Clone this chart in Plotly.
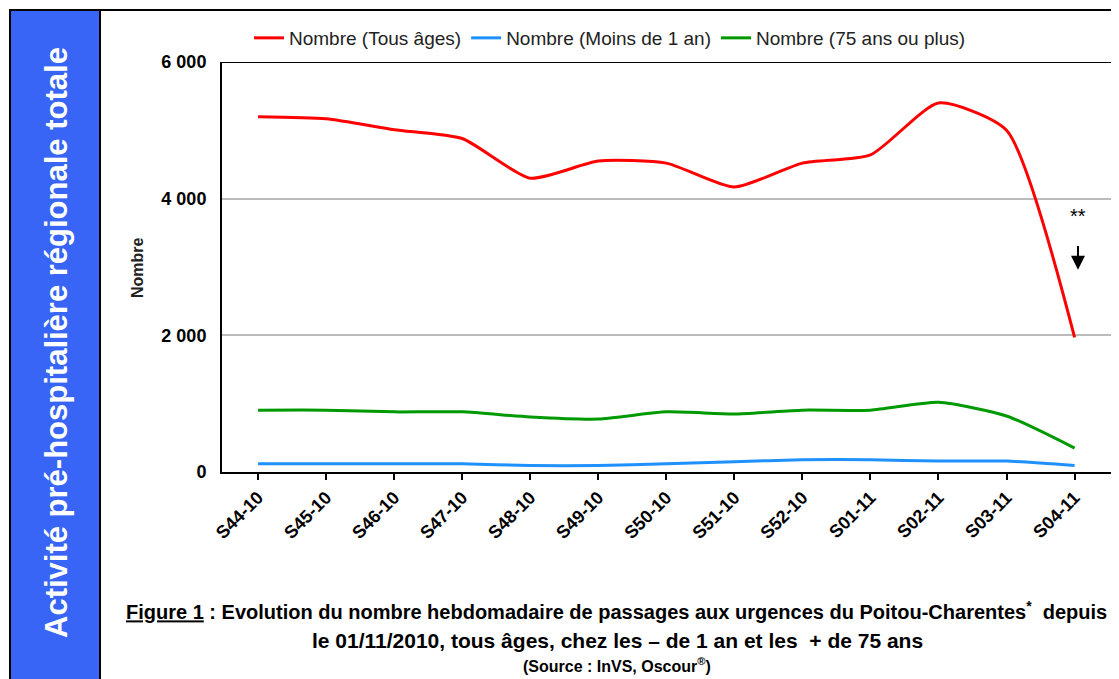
import plotly.graph_objects as go

# ---------------------------------------------------------------
# Data
# ---------------------------------------------------------------
weeks = ["S44-10", "S45-10", "S46-10", "S47-10", "S48-10", "S49-10", "S50-10",
         "S51-10", "S52-10", "S01-11", "S02-11", "S03-11", "S04-11"]

tous_ages = [5200, 5170, 5010, 4880, 4300, 4550, 4520, 4170, 4520, 4640, 5400, 5000, 1970]
moins_1_an = [120, 120, 120, 120, 95, 95, 120, 150, 180, 180, 160, 160, 95]
plus_75_ans = [905, 905, 880, 880, 805, 775, 880, 850, 905, 905, 1020, 820, 350]

y_ticks = [0, 2000, 4000, 6000]
y_tick_labels = ["0", "2 000", "4 000", "6 000"]

FONT = "Liberation Sans, Arial, sans-serif"

fig = go.Figure()

series = [
    ("Nombre (Tous âges)", tous_ages, "#FF0000"),
    ("Nombre (Moins de 1 an)", moins_1_an, "#1E90FF"),
    ("Nombre (75 ans ou plus)", plus_75_ans, "#009900"),
]
for name, values, color in series:
    fig.add_trace(go.Scatter(
        x=weeks, y=values, mode="lines", name=name,
        line=dict(color=color, width=3, shape="spline", smoothing=0.6),
    ))

# plot area in screen pixels: x 222..1112, y 62..472
# the page body has an 8px margin, so the figure is shifted by that much
OFF = 8
L, R, T, B = 222, 1112, 62, 472
W, H = 1119 - OFF, 679 - OFF


def px(x):
    return (x - L) / (R - L)


def py(y):
    return (B - y) / (B - T)


shapes = [
    # blue side panel
    dict(type="rect", xref="paper", yref="paper",
         x0=px(10), x1=px(100), y0=py(690), y1=py(10),
         fillcolor="#3865F5", line=dict(color="black", width=2), layer="below"),
    # top frame line
    dict(type="line", xref="paper", yref="paper",
         x0=px(9), x1=px(1125), y0=py(10), y1=py(10),
         line=dict(color="black", width=2)),
]

annotations = [
    dict(text="<b>Activité pré-hospitalière régionale totale</b>",
         xref="paper", yref="paper", x=px(56), y=py(343), textangle=-90,
         xanchor="center", yanchor="middle",
         showarrow=False, font=dict(family=FONT, size=31, color="white")),
    dict(text="<b>Nombre</b>", xref="paper", yref="paper", x=px(137), y=py(268),
         textangle=-90, xanchor="center", yanchor="middle", showarrow=False,
         font=dict(family=FONT, size=16, color="#222222")),
    dict(text="**", xref="x", yref="y", x=12.05, y=3740, showarrow=False,
         xanchor="center", yanchor="middle",
         font=dict(family=FONT, size=20, color="black")),
    dict(text="", xref="x", yref="y", x=12.05, y=2960, axref="x", ayref="y",
         ax=12.05, ay=3330, showarrow=True, arrowhead=2, arrowsize=1.4,
         arrowwidth=2, arrowcolor="black"),
    dict(text="<b><u>Figure 1</u> : Evolution du nombre hebdomadaire de passages aux urgences "
              "du Poitou-Charentes<sup>*</sup>  depuis</b>",
         xref="paper", yref="paper", x=px(616), y=py(610), showarrow=False,
         xanchor="center", yanchor="middle",
         font=dict(family=FONT, size=20, color="black")),
    dict(text="<b>le 01/11/2010, tous âges, chez les – de 1 an et les  + de 75 ans</b>",
         xref="paper", yref="paper", x=px(617), y=py(640), showarrow=False,
         xanchor="center", yanchor="middle",
         font=dict(family=FONT, size=21, color="black")),
    dict(text="<b>(Source : InVS, Oscour<sup>®</sup>)</b>",
         xref="paper", yref="paper", x=px(617), y=py(665), showarrow=False,
         xanchor="center", yanchor="middle",
         font=dict(family=FONT, size=16, color="black")),
]

fig.update_layout(
    width=W, height=H,
    margin=dict(l=L - OFF, r=W - (R - OFF), t=T - OFF, b=H - (B - OFF), autoexpand=False),
    paper_bgcolor="white", plot_bgcolor="white",
    font=dict(family=FONT, color="#222222"),
    showlegend=True,
    legend=dict(orientation="h", x=px(610), xanchor="center", y=py(38), yanchor="middle",
                font=dict(family=FONT, size=19, color="#222222"),
                itemwidth=30, tracegroupgap=0),
    shapes=shapes,
    annotations=annotations,
)

fig.update_xaxes(
    range=[-0.53, 12.55], showgrid=False,
    showline=True, linecolor="black", linewidth=2,
    ticks="outside", ticklen=6, tickwidth=2, tickcolor="black",
    tickangle=-45, tickfont=dict(family=FONT, size=18, color="black"),
    tickprefix="<b>", ticksuffix="</b>",
)
fig.update_yaxes(
    range=[0, 6000], tickvals=y_ticks, ticktext=[f"<b>{t}</b>" for t in y_tick_labels],
    tickfont=dict(family=FONT, size=18, color="black"),
    showgrid=True, gridcolor="#BBBBBB", gridwidth=2,
    showline=True, linecolor="black", linewidth=2, zeroline=False,
    ticks="", ticklabelstandoff=10,
)
# black line along the top of the plot area (6 000)
fig.add_hline(y=6000, line=dict(color="black", width=2))

fig.write_html("out.html")
